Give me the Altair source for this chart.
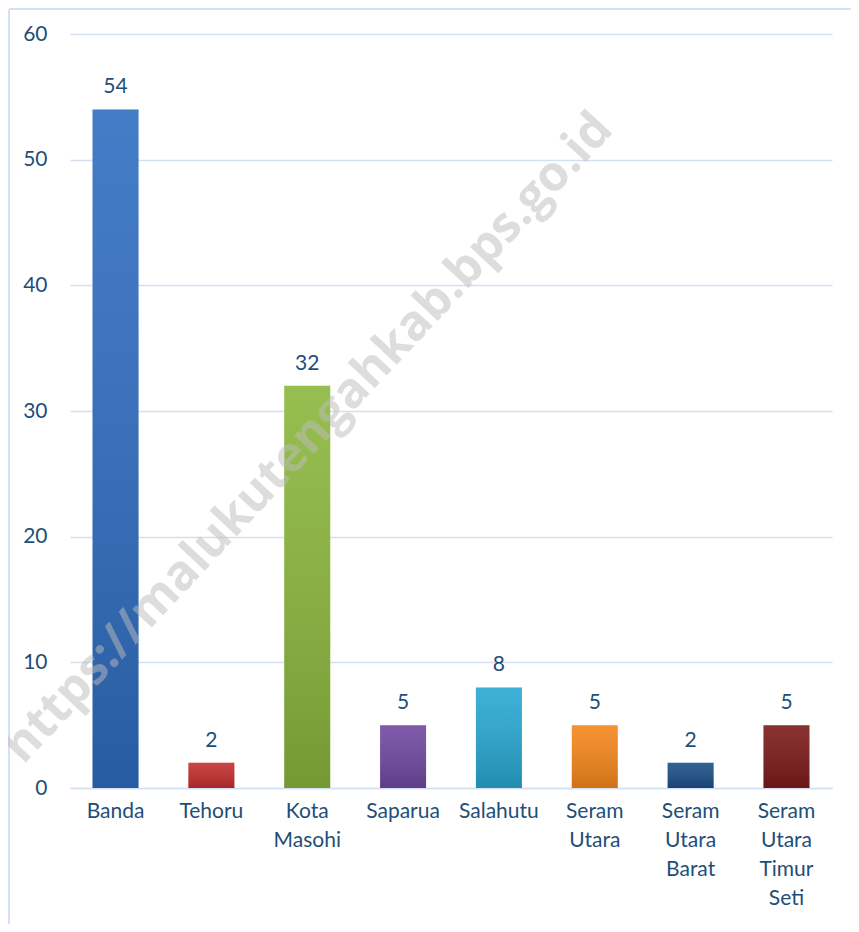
import altair as alt
import pandas as pd

categories = ["Banda", "Tehoru", "Kota Masohi", "Saparua", "Salahutu",
              "Seram Utara", "Seram Utara Barat", "Seram Utara Timur Seti"]
values = [54, 2, 32, 5, 8, 5, 2, 5]
colors = ["#2F6DC0", "#C42E2E", "#8AB63C", "#7048A0", "#28A8D2",
          "#F5871C", "#1C4F88", "#7C1A1A"]
watermark = "https://malukutengahkab.bps.go.id"

df = pd.DataFrame({"kecamatan": categories, "nilai": values})

TEXT = "#1F4E79"
GRID = "#D4E0F2"
FONT = "Lato"

x = alt.X("kecamatan:N", sort=categories,
          scale=alt.Scale(paddingInner=0.52, paddingOuter=0.235),
          axis=alt.Axis(title=None, labelAngle=0, ticks=False, domain=True,
                        domainColor=GRID, domainWidth=1.5,
                        labelExpr="split(datum.label, ' ')",
                        labelFont=FONT, labelFontSize=21, labelColor=TEXT,
                        labelLineHeight=29, labelPadding=12, labelBaseline="top"))
y = alt.Y("nilai:Q", scale=alt.Scale(domain=[0, 60], nice=False),
          axis=alt.Axis(title=None, values=[0, 10, 20, 30, 40, 50, 60],
                        ticks=False, domain=False, grid=True,
                        gridColor=GRID, gridWidth=1.5,
                        labelFont=FONT, labelFontSize=21, labelColor=TEXT,
                        labelPadding=23))

base = alt.Chart(df)

bars = base.mark_bar().encode(
    x=x, y=y,
    color=alt.Color("kecamatan:N", sort=categories,
                    scale=alt.Scale(domain=categories, range=colors), legend=None),
)

shade = base.mark_bar(
    color=alt.Gradient(
        gradient="linear", x1=0, x2=0, y1=0, y2=1,
        stops=[alt.GradientStop(color="rgba(255,255,255,0.10)", offset=0),
               alt.GradientStop(color="rgba(0,0,0,0.16)", offset=1)])
).encode(x=x, y=y)

labels = base.mark_text(font=FONT, fontSize=21, color=TEXT,
                        baseline="alphabetic", dy=-16).encode(
    x=x, y=y, text=alt.Text("nilai:Q"))

border_top = alt.Chart(df).mark_rule(color="#D6E2F3", strokeWidth=2).encode(
    x=alt.value(-61), x2=alt.value(800), y=alt.value(-25))
border_left = alt.Chart(df).mark_rule(color="#D6E2F3", strokeWidth=2).encode(
    x=alt.value(-61), y=alt.value(-25), y2=alt.value(950))

wm = alt.Chart(pd.DataFrame({"t": [watermark]})).mark_text(
    font="Open Sans", fontSize=49, fontWeight="bold", color="#BDBDBD",
    opacity=0.5, angle=313, align="center", baseline="middle").encode(
    x=alt.value(238), y=alt.value(404), text="t:N")

chart = alt.layer(border_top, border_left, bars, shade, labels, wm).properties(
    width=762, height=754,
    autosize=alt.AutoSizeParams(type="none"),
    padding={"left": 62, "top": 26, "right": 19, "bottom": 136},
).configure(background="white").configure_view(stroke=None)

chart.save("out.html", embed_options={"renderer": "svg", "actions": False})
